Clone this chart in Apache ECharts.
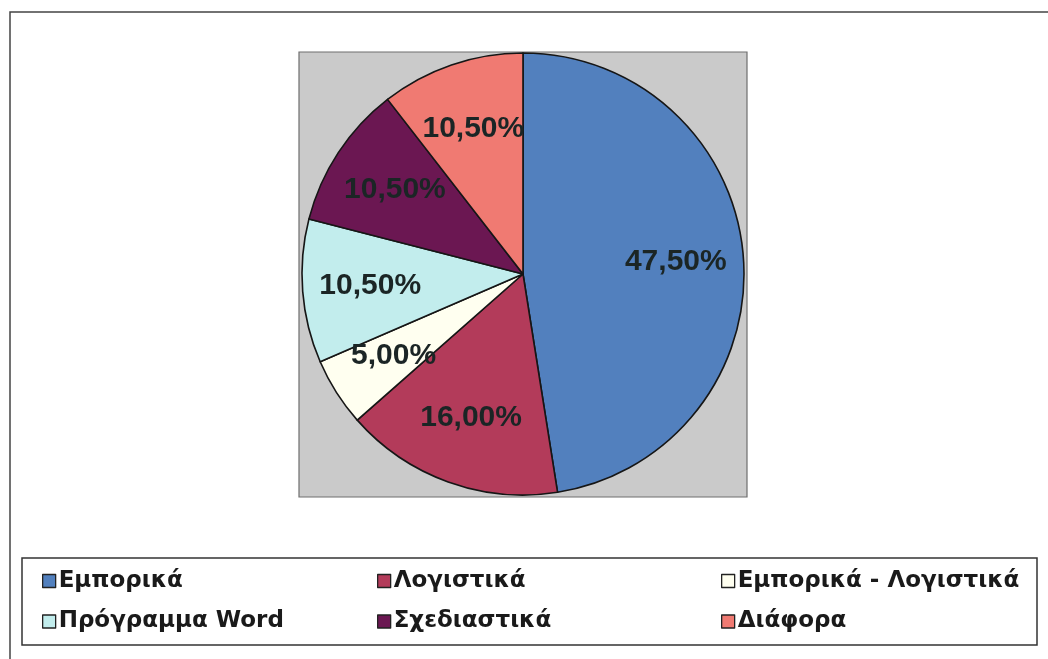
<!DOCTYPE html>
<html>
<head>
<meta charset="utf-8">
<script src="https://cdn.jsdelivr.net/npm/echarts@6/dist/echarts.min.js"></script>
<style>
html,body{margin:0;padding:0;background:#ffffff;}
#chart{width:1048px;height:659px;}
</style>
</head>
<body>
<div id="chart"></div>
<script>
// ---- data ----
const categories = ['Εμπορικά', 'Λογιστικά', 'Εμπορικά - Λογιστικά', 'Πρόγραμμα Word', 'Σχεδιαστικά', 'Διάφορα'];
const values = [47.5, 16.0, 5.0, 10.5, 10.5, 10.5];
const labels = ['47,50%', '16,00%', '5,00%', '10,50%', '10,50%', '10,50%'];
const colors = ['#5280BE', '#B33B5A', '#FFFFF0', '#C2EDED', '#6B1752', '#F07A72'];
const legendColumns = [
  ['Εμπορικά', 'Πρόγραμμα Word'],
  ['Λογιστικά', 'Σχεδιαστικά'],
  ['Εμπορικά - Λογιστικά', 'Διάφορα']
];

// ---- layout ----
const cx = 523, cy = 274, R = 221;
const FONT = '"Liberation Sans", Arial, sans-serif';
const LEGEND_FONT = '"DejaVu Sans", "Liberation Sans", sans-serif';

const chart = echarts.init(document.getElementById('chart'), null, {renderer: 'canvas'});

const pieData = categories.map((n, i) => ({
  name: n, value: values[i], itemStyle: {color: colors[i]}
}));
const labelData = categories.map((n, i) => ({
  name: n, value: values[i], label: {formatter: labels[i]}
}));

const legendX = [42, 377, 721];
const legends = legendColumns.map((col, k) => ({
  orient: 'vertical',
  left: legendX[k],
  top: 569,
  padding: 0,
  itemGap: 16.5,
  itemWidth: 13,
  itemHeight: 13,
  icon: 'rect',
  selectedMode: false,
  data: col,
  itemStyle: {borderColor: '#222', borderWidth: 1.3},
  textStyle: {fontFamily: LEGEND_FONT, fontWeight: 'bold', fontSize: 23, color: '#1a1a1a', lineHeight: 24,
              padding: [0, 0, 0, -2]}
}));

const option = {
  backgroundColor: '#ffffff',
  animation: false,
  color: colors,
  graphic: [
    {type: 'rect', z: -10, shape: {x: 10, y: 12, width: 1060, height: 670},
     style: {fill: '#ffffff', stroke: '#444', lineWidth: 1.5}},
    {type: 'rect', z: -5, shape: {x: 299, y: 52, width: 448, height: 445},
     style: {fill: '#CACACA', stroke: '#6e6e6e', lineWidth: 1.2}},
    {type: 'rect', z: -5, shape: {x: 22, y: 558, width: 1015, height: 87},
     style: {fill: '#ffffff', stroke: '#333', lineWidth: 1.5}}
  ],
  legend: legends,
  series: [
    {
      type: 'pie',
      center: [cx, cy],
      radius: R,
      startAngle: 90,
      clockwise: true,
      silent: true,
      label: {show: false},
      labelLine: {show: false},
      emphasis: {disabled: true},
      itemStyle: {borderColor: '#161616', borderWidth: 1.6},
      data: pieData
    },
    {
      type: 'pie',
      center: [cx, cy],
      radius: [R * 0.36, R],
      startAngle: 90,
      clockwise: true,
      silent: true,
      legendHoverLink: false,
      emphasis: {disabled: true},
      itemStyle: {color: 'rgba(0,0,0,0)', borderWidth: 0},
      labelLine: {show: false},
      label: {
        show: true, position: 'inside',
        fontFamily: FONT, fontWeight: 'bold', fontSize: 30, color: '#1b2525'
      },
      data: labelData
    }
  ]
};
chart.setOption(option);
</script>
</body>
</html>
